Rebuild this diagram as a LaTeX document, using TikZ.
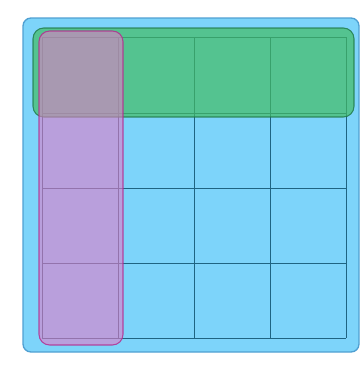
\documentclass[tikz,border=0pt]{standalone}
\usepackage{xcolor}
\definecolor{boardblue}{RGB}{125,212,250}
\definecolor{boardedge}{RGB}{80,160,210}
\definecolor{gridline}{RGB}{30,100,130}
\definecolor{rowgreen}{RGB}{68,188,100}
\definecolor{rowedge}{RGB}{30,120,70}
\definecolor{colpurple}{RGB}{225,125,200}
\definecolor{coledge}{RGB}{180,40,140}

\begin{document}
\begin{tikzpicture}[x=0.0265cm, y=-0.0265cm,
	board/.style={fill=boardblue, draw=boardedge, line width=1pt, rounded corners=6},
	rowband/.style={fill=rowgreen, fill opacity=0.7, draw=rowedge, draw opacity=0.8, line width=0.8pt, rounded corners=8},
	colband/.style={fill=colpurple, fill opacity=0.6, draw=coledge, draw opacity=0.8, line width=0.8pt, rounded corners=8}]
	\useasboundingbox (0,0) rectangle (362,366);
	
	% Board
	\draw[board] (23,18) rectangle (359,352);
	
	% Grid
	\foreach \x in {42,118,194,270,346} {
		\draw[gridline, line width=0.6pt] (\x,37) -- (\x,338);
	}
	\foreach \y in {37,113,188,263,338} {
		\draw[gridline, line width=0.6pt] (42,\y) -- (346,\y);
	}
	
	% Highlighted row and column
	\draw[rowband] (33,28) rectangle (354,117);
	\draw[colband] (39,31) rectangle (123,345);
\end{tikzpicture}
\end{document}
